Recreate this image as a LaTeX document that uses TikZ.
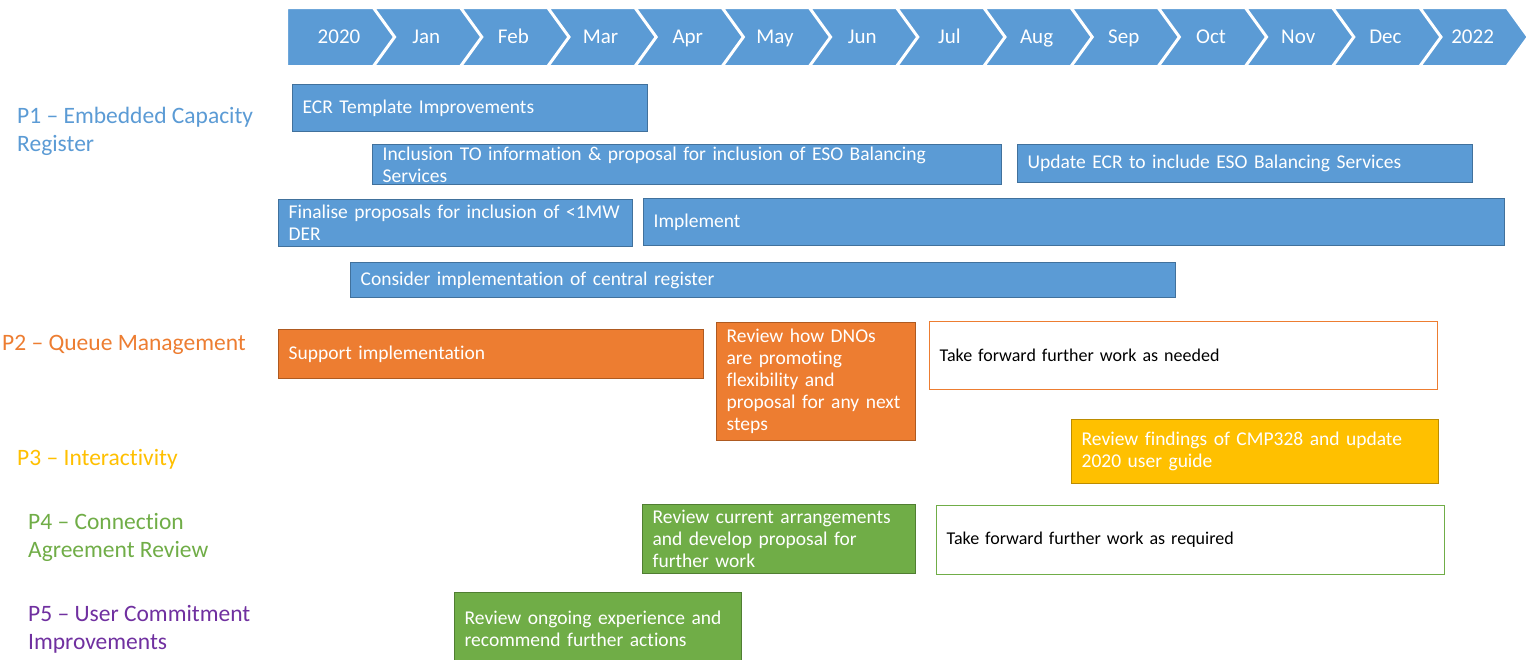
\documentclass[tikz,border=0pt]{standalone}
\usepackage{fontspec}
\setmainfont[Ligatures=CommonOff]{Carlito}
\usetikzlibrary{positioning}

\definecolor{pblue}{HTML}{5B9BD5}
\definecolor{pblueline}{HTML}{41719C}
\definecolor{porange}{HTML}{ED7D31}
\definecolor{porangeline}{HTML}{AE5A21}
\definecolor{pgold}{HTML}{FFC000}
\definecolor{pgoldline}{HTML}{BC8C00}
\definecolor{pgreen}{HTML}{70AD47}
\definecolor{pgreenline}{HTML}{507E32}
\definecolor{ppurple}{HTML}{7030A0}

\tikzset{
  month/.style={text=white, font=\fontsize{21}{24}\selectfont, anchor=base, inner sep=0pt},
  phase/.style={anchor=west, align=left, inner sep=0pt, font=\fontsize{23.5}{28}\selectfont},
  bar/.style={rectangle, anchor=north west, align=left, inner xsep=10pt, inner ysep=0pt,
    line width=1.3pt, font=\fontsize{19.5}{22}\selectfont},
  bluebar/.style={bar, fill=pblue, draw=pblueline, text=white},
  orangebar/.style={bar, fill=porange, draw=porangeline, text=white},
  goldbar/.style={bar, fill=pgold, draw=pgoldline, text=white},
  greenbar/.style={bar, fill=pgreen, draw=pgreenline, text=white},
  openbar/.style={bar, fill=white, draw=#1, text=black, font=\fontsize{18}{22}\selectfont}
}

\begin{document}
\begin{tikzpicture}[x=1pt, y=-1pt]
 \useasboundingbox[fill=white] (0,0) rectangle (1529,659);

 % month header
 \foreach \m [count=\i from 0] in {2020,Jan,Feb,Mar,Apr,May,Jun,Jul,Aug,Sep,Oct,Nov,Dec,2022}{
   \pgfmathsetmacro{\xa}{287+87.2*\i}
   \pgfmathsetmacro{\nd}{ifthenelse(\i==0,0,21)}
   \filldraw[fill=pblue, draw=white, line width=2pt] (\xa,8) -- ++(86,0) -- ++(21,29)
     -- ++(-21,29) -- ++(-86,0) -- ++(\nd,-29) -- cycle;
   \node[month] (m\i) at (\xa+52,43) {\m};
 }

 % workstreams
 \node[phase, text=pblue] (p1) at (17,131) {P1 – Embedded Capacity\\Register};
 \node[phase, text=porange] (p2) at (2,345) {P2 – Queue Management};
 \node[phase, text=pgold] (p3) at (17,459) {P3 – Interactivity};
 \node[phase, text=pgreen] (p4) at (28,537) {P4 – Connection\\Agreement Review};
 \node[phase, text=ppurple] (p5) at (28,629) {P5 – User Commitment\\Improvements};

 % P1
 \node[bluebar, text width=335pt, minimum height=47pt] (ecr) at (292,84) {ECR Template Improvements};
 \node[bluebar, text width=609pt, minimum height=40pt] (incl) at (372,144)
   {Inclusion TO information \& proposal for inclusion of ESO Balancing\\Services};
 \node[bluebar, text width=435pt, minimum height=38pt] (upd) at (1017,144) {Update ECR to include ESO Balancing Services};
 \node[bluebar, text width=334pt, minimum height=47pt] (fin) at (278,199) {Finalise proposals for inclusion of <1MW\\DER};
 \node[bluebar, text width=841pt, minimum height=47pt] (impl) at (643,198) {Implement};
 \node[bluebar, text width=805pt, minimum height=35pt] (cons) at (350,262) {Consider implementation of central register};

 % P2
 \node[orangebar, text width=405pt, minimum height=49pt] (supp) at (278,329) {Support implementation};
 \node[orangebar, text width=179pt, minimum height=118pt] (dno) at (716,322)
   {Review how DNOs\\are promoting\\flexibility and\\proposal for any next\\steps};
 \node[openbar=porange, text width=488pt, minimum height=68pt] (next2) at (929,321) {Take forward further work as needed};

 % P3
 \node[goldbar, text width=347pt, minimum height=64pt] (cmp) at (1071,419) {Review findings of CMP328 and update\\2020 user guide};

 % P4
 \node[greenbar, text width=253pt, minimum height=69pt] (arr) at (642,504)
   {Review current arrangements\\and develop proposal for\\further work};
 \node[openbar=pgreen, text width=488pt, minimum height=69pt] (next4) at (936,505) {Take forward further work as required};

 % P5
 \node[greenbar, text width=267pt, minimum height=72pt] (exp) at (454,592)
   {Review ongoing experience and\\recommend further actions};
\end{tikzpicture}
\end{document}
